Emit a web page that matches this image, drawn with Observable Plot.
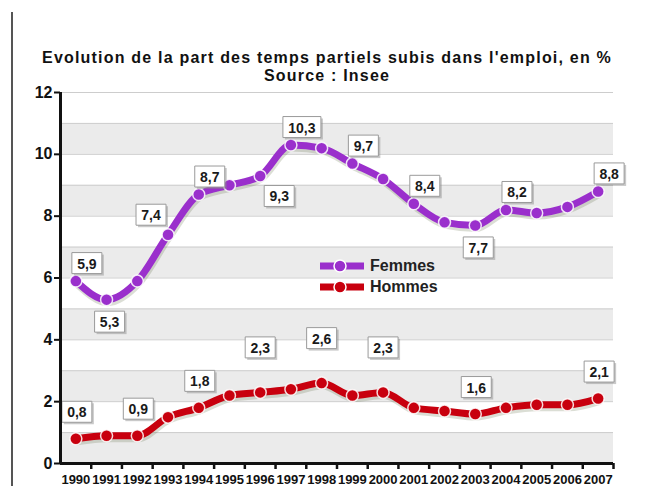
<!DOCTYPE html>
<html><head><meta charset="utf-8">
<script src="https://cdn.jsdelivr.net/npm/d3@7"></script>
<script src="https://cdn.jsdelivr.net/npm/@observablehq/plot@0.6"></script>
<style>
body{margin:0;background:#fff;font-family:"Liberation Sans",Arial,sans-serif;}
#wrap{position:relative;width:648px;height:486px;overflow:hidden;background:#fff}
#border{position:absolute;left:11px;top:12px;width:2px;height:474px;background:#555}
.title{position:absolute;left:6px;width:642px;height:18px;text-align:center;font-weight:bold;font-size:16px;letter-spacing:1.2px;line-height:18px;color:#111;white-space:nowrap}
#chart{position:absolute;left:0;top:82px}
.leg{position:absolute;left:318px;height:20px;display:flex;align-items:center;font-size:16px;font-weight:bold;color:#222}
.leg svg{margin-right:4px}
</style></head>
<body>
<div id="wrap">
  <div id="border"></div>
  <div class="title" style="top:49px">Evolution de la part des temps partiels subis dans l'emploi, en %</div>
  <div class="title" style="top:67px">Source : Insee</div>
  <div id="chart"></div>
  <div id="legend"></div>
</div>
<script>
const years = [1990,1991,1992,1993,1994,1995,1996,1997,1998,1999,2000,2001,2002,2003,2004,2005,2006,2007];
const femmes = [5.9,5.3,5.9,7.4,8.7,9.0,9.3,10.3,10.2,9.7,9.2,8.4,7.8,7.7,8.2,8.1,8.3,8.8];
const hommes = [0.8,0.9,0.9,1.5,1.8,2.2,2.3,2.4,2.6,2.2,2.3,1.8,1.7,1.6,1.8,1.9,1.9,2.1];
const series = ["Femmes","Hommes"];
const colors = ["#9a2fcc","#c8000e"];
const yTicks = [0,2,4,6,8,10,12];
// which points carry a value label, and where the label sits
const femmesLabels = {1990:"ne",1991:"s",1993:"nw",1994:"ne",1996:"se",1997:"ne",1999:"ne",2001:"ne",2003:"s",2004:"ne",2007:"ne"};
const hommesLabels = {1990:"n",1992:"n",1994:"n",1996:"nn",1998:"nn",2000:"nn",2003:"n",2007:"n"};

const placeOffsets = {ne:[11,-18], s:[3,22], nw:[-17,-20], se:[19,20], n:[1,-27], nn:[0,-45]};

const rows = [];
years.forEach((year,i)=>{
  rows.push({year, value: femmes[i], serie: series[0], place: femmesLabels[year]});
  rows.push({year, value: hommes[i], serie: series[1], place: hommesLabels[year]});
});
const fmt = v => d3.format(".1f")(v).replace(".", ",");
const labelled = rows.filter(d => d.place).map(d => ({...d, label: fmt(d.value)}));

const boxCache = {};
function box(w,h){
  const k = w+"x"+h;
  if(!boxCache[k]) boxCache[k] = {draw(ctx){ctx.moveTo(-w/2,-h/2);ctx.lineTo(w/2,-h/2);ctx.lineTo(w/2,h/2);ctx.lineTo(-w/2,h/2);ctx.closePath();}};
  return boxCache[k];
}
const boxSym = d => box(d.label.length > 3 ? 38 : 30, 21);

const bands = yTicks.slice(0,-1).map(t => ({y1: t, y2: t + 1}));
const gridVals = d3.range(yTicks[0] + 1, yTicks[yTicks.length-1] + 1);
const edges = years.map(y => y + 0.5);
const x0 = years[0] - 0.5, x1 = years[years.length-1] + 0.5;

const labelMarks = [];
for (const [place,[dx,dy]] of Object.entries(placeOffsets)) {
  const sub = labelled.filter(d => d.place === place);
  if (!sub.length) continue;
  labelMarks.push(
    Plot.dot(sub, {x:"year", y:"value", symbol: boxSym, fill:"#888", fillOpacity:0.45, stroke:"none", dx: dx+2, dy: dy+2}),
    Plot.dot(sub, {x:"year", y:"value", symbol: boxSym, fill:"white", stroke:"#9a9a9a", strokeWidth:1, dx, dy}),
    Plot.text(sub, {x:"year", y:"value", text:"label", dx, dy: dy+1, fontSize:14, fontWeight:"bold", fill:"#1a1a1a"})
  );
}

const chart = Plot.plot({
  width: 648, height: 404,
  marginTop: 10, marginBottom: 23, marginLeft: 60, marginRight: 35,
  style: {overflow:"visible", fontFamily:"'Liberation Sans', Arial, sans-serif", background:"transparent"},
  x: {type:"linear", domain:[x0, x1], axis:null},
  y: {domain:[yTicks[0], yTicks[yTicks.length-1]], axis:null},
  color: {domain: series, range: colors},
  marks: [
    Plot.rect(bands, {y1:"y1", y2:"y2", fill:"#ebebeb"}),
    Plot.ruleY(gridVals, {stroke:"#cdcdcd", strokeWidth:1}),
    Plot.line(rows, {x:"year", y:"value", z:"serie", stroke:"#5a6a40", strokeOpacity:0.22, strokeWidth:7, dx:1, dy:3, curve:"monotone-x"}),
    Plot.line(rows, {x:"year", y:"value", z:"serie", stroke:"serie", strokeWidth:7, curve:"monotone-x"}),
    Plot.dot(rows, {x:"year", y:"value", fill:"serie", r:6, stroke:"white", strokeOpacity:0.85, strokeWidth:1.5}),
    ...labelMarks,
    Plot.axisY(yTicks, {tickSize:6, tickPadding:2, fontSize:16, fontWeight:"bold", strokeWidth:2, color:"#111", label:null}),
    Plot.axisX(edges, {tickSize:6, strokeWidth:2.5, color:"#111", tickFormat: () => "", label:null}),
    Plot.axisX(years, {tickSize:0, tickPadding:11, fontSize:13, fontWeight:"bold", color:"#111", tickFormat: d => String(d), label:null, style:{letterSpacing:"-0.4px"}}),
    Plot.ruleY([yTicks[0]], {stroke:"#111", strokeWidth:3}),
    Plot.ruleX([x0], {y1: yTicks[0], y2: yTicks[yTicks.length-1], stroke:"#111", strokeWidth:3})
  ]
});
document.getElementById("chart").appendChild(chart);

// legend
const leg = document.getElementById("legend");
series.forEach((s,i) => {
  const div = document.createElement("div");
  div.className = "leg";
  div.style.top = (256 + i*21) + "px";
  div.innerHTML = `<svg width="48" height="16"><line x1="2" y1="8" x2="46" y2="8" stroke="${colors[i]}" stroke-width="7"/><circle cx="22" cy="8" r="6" fill="${colors[i]}" stroke="white" stroke-width="1.5"/></svg><span>${s}</span>`;
  leg.appendChild(div);
});
</script>
</body></html>
